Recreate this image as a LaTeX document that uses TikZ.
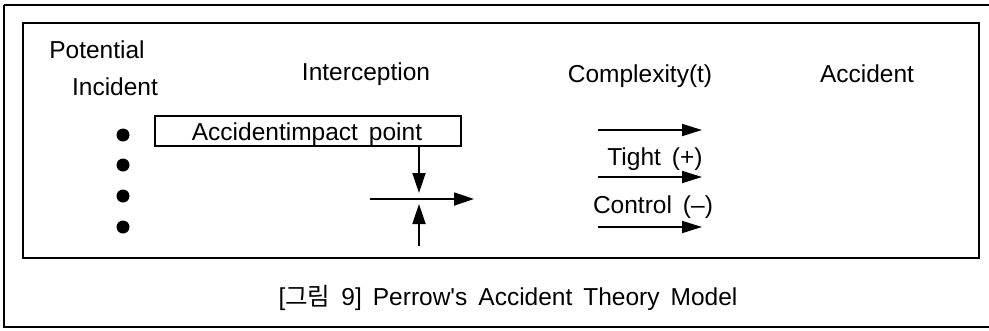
\documentclass[tikz,border=0pt]{standalone}
\usepackage{fontspec}
\setmainfont{Liberation Sans}
\newfontfamily\krfont{Noto Sans CJK KR}
\usetikzlibrary{arrows.meta}
\newcommand{\straightapos}{\XeTeXglyph\the\XeTeXglyphindex "quotesingle"\relax}
\newcommand{\lblfont}{\fontsize{24.5}{28}\selectfont\spaceskip=11pt\relax}
\tikzset{
  lbl/.style={anchor=base,inner sep=0pt,font=\lblfont},
  frame/.style={draw,line width=1.8pt},
  dotnode/.style={circle,fill,inner sep=0pt,minimum width=13pt,minimum height=12pt},
  arr/.style={line width=1.8pt,-{Triangle[length=20pt,width=13pt]}},
  sarr/.style={line width=1.8pt,-{Triangle[length=20pt,width=12pt]}}
}
\begin{document}
\begin{tikzpicture}[x=1pt,y=-1pt]
\useasboundingbox (0,0) rectangle (989,330);
% outer frame
\draw[line width=1.4pt] (4,5) -- (989,5);
\draw[line width=1.4pt] (4,5) -- (4,327) -- (989,327);
% inner frame
\draw[frame] (23,23) rectangle (979,258);
% headers
\node[lbl] (pot) at (97,58) {Potential};
\node[lbl] (inc) at (115,95) {Incident};
\node[lbl] (int) at (366,80) {Interception};
\node[lbl] (cpx) at (640,82) {Complexity(t)};
\node[lbl] (acc) at (867,82) {Accident};
% dots
\node[dotnode] (d1) at (123,135) {};
\node[dotnode] (d2) at (123,165) {};
\node[dotnode] (d3) at (123,196) {};
\node[dotnode] (d4) at (123,227) {};
% box
\node[draw,line width=1.6pt,minimum width=306pt,minimum height=30pt,inner sep=0pt] (box) at (308,131) {};
\node[lbl] (boxt) at (307,140) {Accidentimpact point};
% interception arrows
\coordinate (dtop) at (419,146);
\coordinate (dtip) at (419,193);
\coordinate (hl) at (370,199);
\coordinate (hr) at (474,199);
\coordinate (utip) at (419,204);
\coordinate (ubot) at (419,246);
\draw[arr] (dtop) -- (dtip);
\draw[arr] (hl) -- (hr);
\draw[arr] (ubot) -- (utip);
% complexity arrows
\coordinate (a1l) at (598,130);
\coordinate (a1r) at (702,130);
\coordinate (a2l) at (598,177);
\coordinate (a2r) at (702,177);
\coordinate (a3l) at (598,227);
\coordinate (a3r) at (702,227);
\draw[sarr] (a1l) -- (a1r);
\draw[sarr] (a2l) -- (a2r);
\draw[sarr] (a3l) -- (a3r);
\node[lbl] (tight) at (655,165) {Tight (+)};
\node[lbl] (ctrl) at (653,213) {Control (--)};
% caption
\node[lbl] (cap) at (508,305) {[{\krfont 그림} 9] Perrow\straightapos s Accident Theory Model};
\end{tikzpicture}
\end{document}
